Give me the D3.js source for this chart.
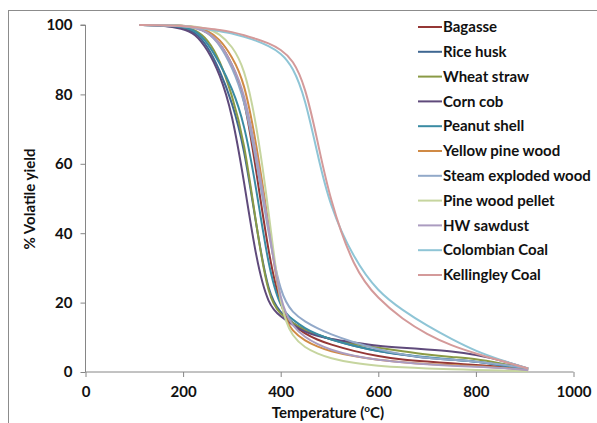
<!DOCTYPE html>
<html>
<head>
<meta charset="utf-8">
<script src="https://cdn.jsdelivr.net/npm/d3@7"></script>
<style>
  body { margin: 0; background: #fff; }
  text { font-family: Lato, "Open Sans", sans-serif; font-weight: bold; fill: #111; }
</style>
</head>
<body>
<div id="chart"></div>
<script>
// sampled temperatures (deg C) shared by every series
var temps = [110, 150, 200, 225, 250, 275, 300, 325, 350, 375, 400, 425, 450, 475, 500, 550, 600, 650, 700, 750, 800, 850, 907];

// % volatile yield
var bagasse    = [100, 100, 99.8, 99.3, 98, 95, 89, 80, 58, 34, 18, 13.5, 11, 9.3, 8, 6, 4.5, 3.5, 3, 2.5, 2, 1.5, 0.5];
var riceHusk   = [100, 100, 99.3, 98, 94, 87, 78, 65, 42, 22, 17, 14, 12, 10.7, 9.5, 7.5, 6, 5, 4, 3.5, 3, 2, 0.8];
var wheatStraw = [100, 100, 99.5, 98.7, 96, 90, 80, 67, 42, 21, 16.5, 14, 12, 10.7, 9.5, 8, 7, 6, 5, 4.3, 3.8, 2.5, 1];
var cornCob    = [100, 100, 99, 97.5, 93, 86, 75, 55, 32, 19, 16, 13.5, 11.5, 10.4, 9.5, 8.5, 7.5, 7, 6.5, 6, 5, 3.5, 1];
var peanut     = [100, 100, 99.5, 98.5, 95, 89, 82, 72, 53, 30, 18, 15, 12.5, 10.8, 9.5, 7.5, 6, 5, 4.2, 3.6, 3, 2, 0.8];
var yellowPine = [100, 100, 99.8, 99.5, 98.5, 96, 91, 84, 66, 43, 17, 11.5, 9, 7.3, 6, 4.5, 3.5, 2.8, 2.3, 2, 1.7, 1.3, 0.5];
var steamWood  = [100, 100, 99.8, 99.4, 98, 94.5, 88, 79, 61, 40, 22, 17, 14.5, 12.6, 11, 8.5, 6.5, 5, 4, 3.5, 3, 2.2, 1];
var pellet     = [100, 100, 99.8, 99.6, 99, 97.5, 94, 88, 72, 47, 17, 10, 7, 5.3, 4, 2.5, 1.8, 1.3, 1, 0.8, 0.6, 0.4, 0.2];
var hwSawdust  = [100, 100, 99.7, 99.2, 98, 95, 89, 81, 63, 42, 19, 13, 10, 8, 6.5, 4.5, 3.5, 2.8, 2.2, 1.8, 1.5, 1.2, 0.5];
var colombian  = [100, 100, 99.7, 99.3, 98.8, 98.2, 97.6, 96.6, 95.5, 94, 92, 88, 79, 63, 48, 32.5, 23, 17.8, 13.3, 9.5, 6, 3.5, 1];
var kellingley = [100, 100, 99.7, 99.4, 99, 98.6, 98, 97.1, 96, 94.8, 93, 90, 82.5, 67, 50, 29.5, 21, 15.2, 10.8, 7.6, 5.3, 3.3, 1];

var names = ["Bagasse", "Rice husk", "Wheat straw", "Corn cob", "Peanut shell", "Yellow pine wood",
             "Steam exploded wood", "Pine wood pellet", "HW sawdust", "Colombian Coal", "Kellingley Coal"];
var values = [bagasse, riceHusk, wheatStraw, cornCob, peanut, yellowPine, steamWood, pellet, hwSawdust, colombian, kellingley];
var colors = ["#953735", "#3f6792", "#8a9a45", "#5f4a7b", "#3a8ba3", "#d08a45",
              "#92a9c9", "#c6d59f", "#ab9cc0", "#8fc5d6", "#d49a9a"];

var xTicks = [0, 200, 400, 600, 800, 1000];
var yTicks = [0, 20, 40, 60, 80, 100];

var width = 597, height = 423;

var svg = d3.select("#chart")
    .append("svg")
    .attr("width", width)
    .attr("height", height);

// outer chart frame
svg.append("rect")
    .attr("x", 8.5).attr("y", 10.5)
    .attr("width", 600).attr("height", 430)
    .attr("fill", "none")
    .attr("stroke", "#8c8c8c")
    .attr("stroke-width", 1);

var x = d3.scaleLinear().domain([0, 1000]).range([85.5, 573.5]);
var y = d3.scaleLinear().domain([0, 100]).range([372, 25]);

// y axis
var yAxis = svg.append("g")
    .attr("transform", "translate(85.5,0)")
    .call(d3.axisLeft(y).tickValues(yTicks).tickSize(5).tickPadding(8).tickFormat(d3.format("d")));
yAxis.select(".domain").attr("stroke", "#868686").attr("d", "M-5," + y(100) + "H0V" + y(0));
yAxis.selectAll(".tick line").attr("stroke", "#868686");
yAxis.selectAll("text").style("font-size", "15px").attr("fill", "#111");

// x axis
var xAxis = svg.append("g")
    .attr("transform", "translate(0," + y(0) + ")")
    .call(d3.axisBottom(x).tickValues(xTicks).tickSize(5).tickPadding(9).tickFormat(d3.format("d")));
xAxis.select(".domain").attr("stroke", "#868686").attr("d", "M" + x(0) + ",0H" + x(1000));
xAxis.selectAll(".tick line").attr("stroke", "#868686");
xAxis.selectAll("text").style("font-size", "15px").attr("fill", "#111");

// axis titles
svg.append("text")
    .attr("transform", "translate(35,199) rotate(-90)")
    .attr("text-anchor", "middle")
    .style("font-size", "15px")
    .text("% Volatile yield");

var xt = svg.append("text")
    .attr("x", 328).attr("y", 418)
    .attr("text-anchor", "middle")
    .style("font-size", "15px");
xt.append("tspan").text("Temperature (");
xt.append("tspan").attr("baseline-shift", "super").style("font-size", "10px").text("o");
xt.append("tspan").text("C)");

// series lines
var line = d3.line()
    .x(function (d) { return x(d[0]); })
    .y(function (d) { return y(d[1]); })
    .curve(d3.curveBasis);

var series = names.map(function (n, i) {
    return { name: n, color: colors[i], points: temps.map(function (t, j) { return [t, values[i][j]]; }) };
});

svg.append("g")
    .selectAll("path")
    .data(series)
    .enter()
    .append("path")
    .attr("d", function (d) { return line(d.points); })
    .attr("fill", "none")
    .attr("stroke", function (d) { return d.color; })
    .attr("stroke-width", 2);

// legend
var legend = svg.append("g")
    .selectAll("g")
    .data(series)
    .enter()
    .append("g")
    .attr("transform", function (d, i) { return "translate(418," + (27 + i * 24.8) + ")"; });

legend.append("line")
    .attr("x1", 0).attr("x2", 24)
    .attr("stroke", function (d) { return d.color; })
    .attr("stroke-width", 2);

legend.append("text")
    .attr("x", 25)
    .attr("dy", "0.35em")
    .style("font-size", "15px")
    .text(function (d) { return d.name; });
</script>
</body>
</html>
